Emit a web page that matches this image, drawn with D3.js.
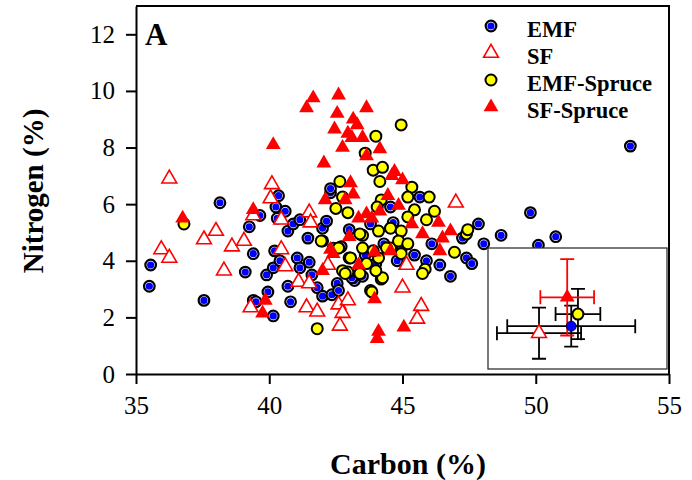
<!DOCTYPE html>
<html>
<head>
<meta charset="utf-8">
<script src="https://cdn.jsdelivr.net/npm/d3@7"></script>
<style>
body{margin:0;background:#fff;}
svg text{font-family:"Liberation Serif","Times New Roman",serif;fill:#000;}
</style>
</head>
<body>
<svg id="chart"></svg>
<script>
// carbon %, nitrogen % for each group
var emfPoints = [
 [35.5,3.1],[35.55,3.85],[37.55,2.6],[38.15,6.05],[39.25,5.2],[39.4,4.25],[39.1,3.6],[39.4,2.6],
 [39.5,2.55],[39.65,5.6],[40.15,2.05],[39.95,2.9],[39.9,3.5],[40.15,3.75],[40.2,4.35],[40.4,4.0],
 [40.35,6.3],[40.25,5.9],[40.3,5.5],[40.6,5.75],[40.7,5.05],[40.9,5.3],[41.15,5.45],[41.45,4.8],
 [41.05,4.1],[41.15,3.75],[40.7,3.1],[40.8,2.55],[41.5,3.95],[41.6,3.5],[41.8,3.05],[42.0,2.75],
 [42.35,2.8],[42.55,3.2],[42.6,2.95],[42.0,5.15],[42.15,5.4],[42.3,6.4],[42.3,6.55],[42.4,4.45],
 [43.2,3.3],[43.1,3.4],[42.7,4.5],[43.0,5.1],[43.3,3.6],[43.6,4.2],[43.8,5.3],[44.0,3.9],
 [44.3,4.6],[44.55,5.9],[44.65,5.35],[44.8,4.0],[45.0,4.5],[45.45,4.2],[45.65,6.25],[45.9,4.0],
 [46.1,4.6],[46.4,3.85],[46.8,3.45],[47.25,4.8],[47.4,4.1],[47.6,3.9],[47.85,5.3],[48.05,4.6],
 [48.7,4.9],[49.8,5.7],[50.1,4.55],[50.75,4.85],[53.55,8.05],[43.5,3.45],[44.2,3.35]
];
var sfPoints = [
 [36.25,6.9],[35.95,4.4],[36.25,4.1],[37.55,4.75],[38.0,5.05],[38.6,4.5],[39.05,4.7],[38.3,3.65],
 [39.3,2.35],[39.4,5.6],[40.1,6.7],[40.05,6.2],[40.45,5.45],[40.45,4.4],[40.6,3.8],[41.5,5.7],
 [41.55,5.35],[41.1,3.25],[41.5,3.2],[42.2,3.85],[41.4,2.35],[41.8,2.2],[42.6,2.45],[42.95,2.6],
 [42.75,2.15],[42.65,1.7],[45.0,3.05],[45.7,2.4],[45.55,1.95],[47.0,6.05],[45.15,3.85]
];
var emfSprucePoints = [
 [36.8,5.3],[41.8,1.6],[42.65,6.8],[42.0,4.7],[42.6,4.45],[42.95,5.7],[42.5,5.85],[43.0,4.1],
 [42.95,3.6],[43.5,4.9],[43.65,3.9],[44.25,3.4],[43.8,2.95],[43.9,7.2],[44.25,7.3],[44.15,6.8],
 [44.2,6.15],[44.55,5.15],[44.1,4.1],[44.55,4.45],[44.95,8.8],[44.0,8.4],[43.6,7.8],[45.35,6.6],
 [45.2,6.25],[46.0,6.25],[45.45,5.8],[46.2,5.75],[45.9,5.45],[45.2,5.55],[44.1,5.05],[44.95,5.05],
 [44.85,4.7],[45.2,4.6],[44.4,4.45],[44.95,4.25],[45.85,3.7],[45.75,3.55],[46.95,4.3],[47.4,4.95],
 [44.0,3.65],[42.75,6.25],[41.95,4.7],[43.4,4.95],[43.5,4.45],[43.05,4.1],[43.9,4.35],[42.75,3.65],
 [44.05,5.9],[42.85,3.55],[43.4,3.55],[43.85,2.9],[47.45,5.1]
];
var sfSprucePoints = [
 [41.65,9.75],[41.4,9.4],[42.6,9.85],[42.55,9.2],[42.45,8.65],[43.65,9.4],[43.15,9.0],[42.95,8.5],
 [43.3,8.8],[43.5,8.35],[43.1,8.35],[42.75,8.0],[40.15,8.1],[44.15,7.95],[43.65,7.7],[42.05,7.45],
 [44.7,7.15],[45.0,6.85],[44.6,7.0],[43.05,6.75],[36.75,5.5],[39.4,5.8],[39.85,2.6],[39.75,2.15],
 [42.1,6.15],[42.85,6.15],[43.15,6.35],[44.45,6.3],[44.85,5.95],[44.15,5.75],[43.85,5.5],[43.35,5.5],
 [43.65,5.65],[43.0,4.85],[42.3,4.4],[42.4,4.25],[42.0,3.65],[43.35,3.85],[43.95,4.3],[44.55,4.35],
 [45.35,5.3],[46.35,5.35],[46.8,5.05],[45.75,4.95],[46.5,4.8],[46.4,4.35],[43.95,2.65],[44.1,1.5],
 [44.05,1.25],[45.05,1.65]
];

// inset: group means and SD
var insetGroups = ["EMF","SF","EMF-Spruce","SF-Spruce"];
var insetMeanC = [44.3,40.7,45.05,43.85];
var insetSdC   = [7.15,4.7,2.5,3.0];
var insetMeanN = [4.6,3.85,5.9,7.7];
var insetSdN   = [2.2,2.75,2.7,4.1];

var legendNames = ["EMF","SF","EMF-Spruce","SF-Spruce"];
var xTicks = [35,40,45,50,55];
var yTicks = [0,2,4,6,8,10,12];

var screen = {width:692,height:480};
var margins = {left:136,right:23,top:6,bottom:106};
var graph = {
    width:screen.width-margins.left-margins.right,
    height:screen.height-margins.top-margins.bottom
};

var svg = d3.select("#chart")
    .attr("width",screen.width)
    .attr("height",screen.height);

svg.append("rect").attr("width",screen.width).attr("height",screen.height).attr("fill","#fff");

var xScale = d3.scaleLinear().domain([35,55]).range([0,graph.width]);
var yScale = d3.scaleLinear().domain([0,13]).range([graph.height,0]);

var tri = d3.symbol().type(d3.symbolTriangle).size(95);

// draws one marker style into a selection of g's
var styleMarker = function(sel,kind,small){
    if(kind=="EMF"){
        if(small){
            sel.append("circle").attr("r",5).attr("fill","#0000ff").attr("stroke","#000").attr("stroke-width",0.8);
        } else {
            sel.append("circle").attr("r",5.3).attr("fill","#fff").attr("stroke","#000").attr("stroke-width",2.2);
            sel.append("circle").attr("r",3.6).attr("fill","#0000ff");
        }
    }
    if(kind=="EMF-Spruce"){
        sel.append("circle").attr("r",5.5).attr("fill","#ffff00").attr("stroke","#000").attr("stroke-width",2);
    }
    if(kind=="SF"){
        sel.append("path").attr("d",tri).attr("fill","#fff").attr("stroke","#ff0000").attr("stroke-width",1.6);
    }
    if(kind=="SF-Spruce"){
        sel.append("path").attr("d",tri).attr("fill","#ff0000");
    }
};

var plot = svg.append("g")
    .attr("transform","translate("+margins.left+","+margins.top+")");

var drawSeries = function(points,kind){
    var g = plot.append("g").attr("class",kind);
    var marks = g.selectAll("g")
        .data(points)
        .enter()
        .append("g")
        .attr("transform",function(d){return "translate("+xScale(d[0])+","+yScale(d[1])+")";});
    styleMarker(marks,kind,false);
};

drawSeries(emfPoints,"EMF");
drawSeries(emfSprucePoints,"EMF-Spruce");
drawSeries(sfPoints,"SF");
drawSeries(sfSprucePoints,"SF-Spruce");

// frame
plot.append("path")
    .attr("d","M0,0H"+graph.width+"V"+graph.height)
    .attr("fill","none").attr("stroke","#000").attr("stroke-width",2);

// axes
var xAxis = d3.axisBottom(xScale).tickValues(xTicks).tickSize(10).tickSizeOuter(0).tickPadding(12);
var yAxis = d3.axisLeft(yScale).tickValues(yTicks).tickSize(10).tickSizeOuter(0).tickPadding(11);

var gx = plot.append("g").attr("transform","translate(0,"+graph.height+")").call(xAxis);
var gy = plot.append("g").call(yAxis);
[gx,gy].forEach(function(a){
    a.select(".domain").attr("stroke","#000").attr("stroke-width",2);
    a.selectAll(".tick line").attr("stroke","#000").attr("stroke-width",2);
    a.selectAll(".tick text").attr("font-size",25).attr("font-family","Liberation Serif").attr("fill","#000");
});

// inset with means +- SD
var inset = {left:352,top:242,width:179,height:121};
var ig = plot.append("g").attr("transform","translate("+inset.left+","+inset.top+")");
ig.append("rect").attr("width",inset.width).attr("height",inset.height)
    .attr("fill","#fff").attr("stroke","#333").attr("stroke-width",1.3);
var xIn = d3.scaleLinear().domain([35,55]).range([0,inset.width]);
var yIn = d3.scaleLinear().domain([0,13]).range([inset.height,0]);
var cap = 7;
insetGroups.forEach(function(name,i){
    var col = name=="SF-Spruce" ? "#ff0000" : "#000";
    var cx = xIn(insetMeanC[i]), cy = yIn(insetMeanN[i]);
    var x0 = xIn(insetMeanC[i]-insetSdC[i]), x1 = xIn(insetMeanC[i]+insetSdC[i]);
    var y0 = yIn(insetMeanN[i]-insetSdN[i]), y1 = yIn(insetMeanN[i]+insetSdN[i]);
    var d = "M"+x0+","+cy+"H"+x1+
            "M"+x0+","+(cy-cap)+"V"+(cy+cap)+
            "M"+x1+","+(cy-cap)+"V"+(cy+cap)+
            "M"+cx+","+y0+"V"+y1+
            "M"+(cx-cap)+","+y0+"H"+(cx+cap)+
            "M"+(cx-cap)+","+y1+"H"+(cx+cap);
    ig.append("path").attr("d",d).attr("fill","none").attr("stroke",col).attr("stroke-width",1.8);
});
insetGroups.forEach(function(name,i){
    var m = ig.append("g").attr("transform","translate("+xIn(insetMeanC[i])+","+yIn(insetMeanN[i])+")");
    styleMarker(m,name,true);
});

// legend
var legend = svg.append("g").attr("transform","translate(491,26)");
var entries = legend.selectAll("g")
    .data(legendNames)
    .enter()
    .append("g")
    .attr("transform",function(d,i){return "translate(0,"+(i*27)+")";});
entries.each(function(d){ styleMarker(d3.select(this),d,false); });
entries.append("text")
    .text(function(d){return d;})
    .attr("x",36).attr("y",11)
    .attr("font-size",22.5).attr("font-weight","bold");

// labels
svg.append("text").text("A")
    .attr("x",145).attr("y",45)
    .attr("font-size",31).attr("font-weight","bold");

svg.append("text").text("Carbon (%)")
    .attr("text-anchor","middle")
    .attr("x",408).attr("y",474)
    .attr("font-size",30).attr("font-weight","bold");

svg.append("g").attr("transform","translate(43,191)")
    .append("text").text("Nitrogen (%)")
    .attr("text-anchor","middle")
    .attr("transform","rotate(-90)")
    .attr("font-size",29).attr("font-weight","bold");
</script>
</body>
</html>
